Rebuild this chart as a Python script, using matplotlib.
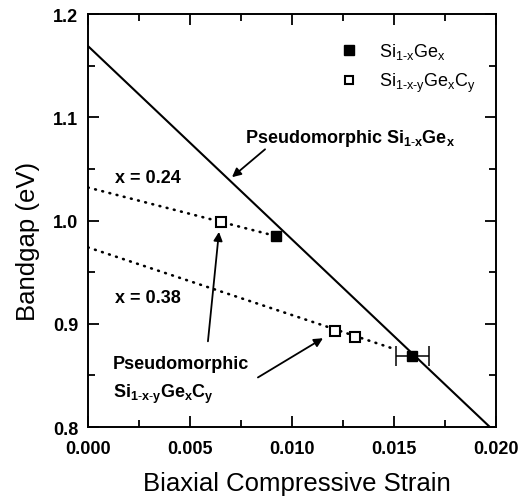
import numpy as np
import matplotlib
matplotlib.use('Agg')
import matplotlib.pyplot as plt

plt.rcParams['font.family'] = ['Liberation Sans', 'DejaVu Sans']
plt.rcParams['mathtext.fontset'] = 'custom'
plt.rcParams['mathtext.rm'] = 'Liberation Sans'
plt.rcParams['mathtext.it'] = 'Liberation Sans'
plt.rcParams['mathtext.bf'] = 'Liberation Sans:bold'
plt.rcParams['mathtext.default'] = 'regular'

# data
sige_strain = [0.0092, 0.0159]
sige_gap = [0.985, 0.869]
sige_xerr = [0.0, 0.0008]

sigec_strain = [0.0065, 0.0121, 0.0131]
sigec_gap = [0.9985, 0.893, 0.887]

pseudo_strain = [0.0, 0.0197]
pseudo_gap = [1.169, 0.800]

x24_strain = [0.0, 0.0092]
x24_gap = [1.032, 0.985]
x38_strain = [0.0, 0.0151]
x38_gap = [0.974, 0.875]

xticks = [0.000, 0.005, 0.010, 0.015, 0.020]
xticklabels = ['0.000', '0.005', '0.010', '0.015', '0.020']
yticks = [0.8, 0.9, 1.0, 1.1, 1.2]
yticklabels = ['0.8', '0.9', '1.0', '1.1', '1.2']

lbl_sige = r'Si$_{1\text{-}x}$Ge$_x$'
lbl_sigec = r'Si$_{1\text{-}x\text{-}y}$Ge$_x$C$_y$'

fig = plt.figure(figsize=(5.32, 5.02), dpi=100)
ax = fig.add_axes([0.1654, 0.1474, 0.7669, 0.8226])

ax.plot(pseudo_strain, pseudo_gap, color='black', lw=1.5, zorder=2)
dots = dict(color='black', lw=1.9, linestyle=(0, (0.3, 2.5)), dash_capstyle='round', zorder=2)
ax.plot(x24_strain, x24_gap, **dots)
ax.plot(x38_strain, x38_gap, **dots)

err = np.array(sige_xerr)
has = err > 0
ax.errorbar(np.array(sige_strain)[has], np.array(sige_gap)[has], xerr=err[has],
            fmt='none', ecolor='black', elinewidth=1.1, capsize=7, capthick=1.1, zorder=3)
ax.plot(sige_strain, sige_gap, 's', color='black', ms=7.5, ls='none', zorder=4, label=lbl_sige)
ax.plot(sigec_strain, sigec_gap, 's', mfc='white', mec='black', mew=1.5, ms=6.5, ls='none',
        zorder=4, label=lbl_sigec)

# labels inside the plot
tb = dict(fontsize=13, fontweight='bold')
ax.text(0.00132, 1.042, 'x = 0.24', ha='left', va='center', **tb)
ax.text(0.00132, 0.925, 'x = 0.38', ha='left', va='center', **tb)
ax.text(0.0077, 1.076, 'Pseudomorphic ' + lbl_sige, ha='left', va='baseline', **tb)
ax.text(0.00123, 0.857, 'Pseudomorphic', ha='left', va='baseline', **tb)
ax.text(0.00123, 0.829, lbl_sigec, ha='left', va='baseline', **tb)

arrow = dict(arrowstyle='-|>', color='black', lw=1.3, mutation_scale=13, shrinkA=0, shrinkB=0)
ax.annotate('', xy=(0.00706, 1.042), xytext=(0.00868, 1.069), arrowprops=arrow)
ax.annotate('', xy=(0.00642, 0.989), xytext=(0.00588, 0.883), arrowprops=arrow)
ax.annotate('', xy=(0.01152, 0.886), xytext=(0.00833, 0.848), arrowprops=arrow)

ax.set_xlim(0, 0.020)
ax.set_ylim(0.8, 1.2)
ax.set_xticks(xticks)
ax.set_xticklabels(xticklabels, fontweight='bold')
ax.set_yticks(yticks)
ax.set_yticklabels(yticklabels, fontweight='bold')
ax.set_xticks(np.arange(0, 0.0201, 0.0025), minor=True)
ax.set_yticks(np.arange(0.8, 1.201, 0.05), minor=True)
ax.tick_params(which='both', direction='in', top=True, right=True, width=1.3, labelsize=13)
ax.tick_params(which='major', length=8)
ax.tick_params(which='minor', length=5)
ax.tick_params(axis='x', pad=9)
ax.tick_params(axis='y', pad=7)
for s in ax.spines.values():
    s.set_linewidth(1.4)

ax.set_xlabel('Biaxial Compressive Strain', fontsize=18.5)
ax.set_ylabel('Bandgap (eV)', fontsize=18.5)
ax.xaxis.set_label_coords(0.511, -0.107)
ax.yaxis.set_label_coords(-0.118, 0.453)

ax.legend(loc='upper left', bbox_to_anchor=(0.625, 0.935), frameon=False, fontsize=13,
          handlelength=0.7, handletextpad=1.3, labelspacing=0.55, borderpad=0, borderaxespad=0,
          numpoints=1, markerscale=0.95)

fig.savefig('out.png', dpi=100)
